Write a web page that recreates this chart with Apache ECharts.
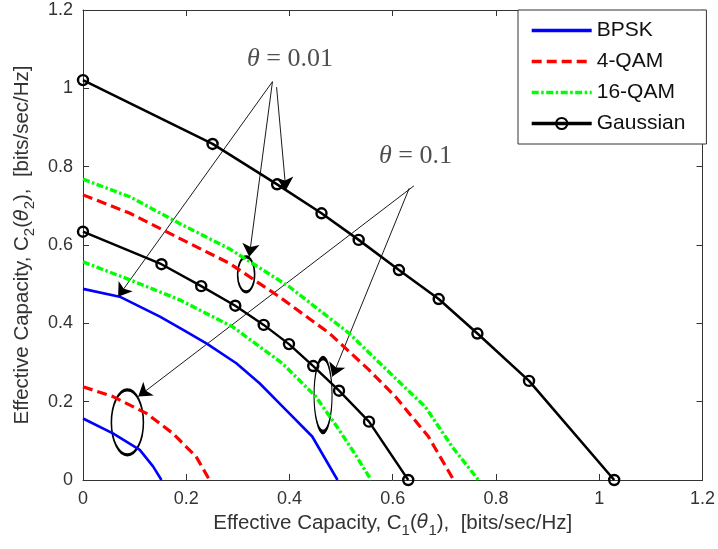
<!DOCTYPE html>
<html><head><meta charset="utf-8">
<script src="https://cdn.jsdelivr.net/npm/echarts@6/dist/echarts.min.js"></script>
<style>html,body{margin:0;padding:0;background:#fff}#c{width:718px;height:549px}</style>
</head><body><div id="c"></div>
<script>
// ---- data (C1 = x, C2 = y) ----
const bpskT001C1 = [0, 0.071, 0.149, 0.194, 0.239, 0.297, 0.342, 0.393, 0.444, 0.493];
const bpskT001C2 = [0.488, 0.468, 0.417, 0.383, 0.349, 0.298, 0.247, 0.179, 0.111, 0];
const bpskT01C1 = [0, 0.058, 0.110, 0.136, 0.152];
const bpskT01C2 = [0.157, 0.119, 0.077, 0.034, 0];

const qam4T001C1 = [0, 0.091, 0.187, 0.284, 0.380, 0.477, 0.554, 0.605, 0.669, 0.718];
const qam4T001C2 = [0.728, 0.681, 0.617, 0.553, 0.468, 0.375, 0.281, 0.213, 0.111, 0];
const qam4T01C1 = [0, 0.058, 0.123, 0.174, 0.219, 0.245];
const qam4T01C2 = [0.238, 0.213, 0.170, 0.119, 0.060, 0];

const qam16T001C1 = [0, 0.091, 0.187, 0.284, 0.399, 0.515, 0.605, 0.663, 0.715, 0.766];
const qam16T001C2 = [0.768, 0.723, 0.655, 0.590, 0.494, 0.375, 0.260, 0.187, 0.085, 0];
const qam16T01C1 = [0, 0.091, 0.187, 0.290, 0.386, 0.451, 0.496, 0.530, 0.558];
const qam16T01C2 = [0.557, 0.511, 0.460, 0.391, 0.298, 0.213, 0.128, 0.060, 0];

const gaussT001C1 = [0, 0.251, 0.376, 0.462, 0.534, 0.612, 0.689, 0.764, 0.864, 1.029];
const gaussT001C2 = [1.021, 0.858, 0.755, 0.681, 0.613, 0.536, 0.462, 0.374, 0.253, 0];
const gaussT01C1 = [0, 0.152, 0.229, 0.295, 0.350, 0.399, 0.446, 0.496, 0.554, 0.630];
const gaussT01C2 = [0.634, 0.551, 0.495, 0.445, 0.396, 0.347, 0.291, 0.228, 0.149, 0];

const seriesNames = ['BPSK', '4-QAM', '16-QAM', 'Gaussian'];

// annotations (data coordinates)
const noteTexts = ['θ = 0.01', 'θ = 0.1'];
const notePos = [[0.401, 1.074], [0.644, 0.827]];
const arrowFrom = [[0.367, 1.017], [0.367, 1.017], [0.375, 1.003], [0.641, 0.751], [0.632, 0.745]];
const arrowTo = [[0.068, 0.468], [0.322, 0.570], [0.393, 0.740], [0.107, 0.213], [0.483, 0.264]];
const ellipseCenters = [[0.316, 0.525], [0.086, 0.147], [0.465, 0.217]];

// ---- build ----
const zip = (a, b) => a.map((v, i) => [v, b[i]]);
const ellipseSizes = [[17, 35], [32, 65], [18, 74]];

function curve(name, xs, ys, color, dash, width, extra) {
  return Object.assign({
    name: name, type: 'line', data: zip(xs, ys),
    symbol: 'none', showSymbol: false, silent: true, animation: false,
    lineStyle: { color: color, width: width, type: dash, cap: 'butt' },
    itemStyle: { color: color }
  }, extra || {});
}
const gaussExtra = {
  symbol: 'circle', showSymbol: true, symbolSize: 10,
  itemStyle: { color: 'rgba(0,0,0,0)', borderColor: '#000', borderWidth: 2.4 }
};
const dashRed = [10, 5];
const dashGreen = [7, 2.5, 2.5, 2.5];

const series = [
  curve('BPSK', bpskT001C1, bpskT001C2, '#0000ff', 'solid', 2.6),
  curve('BPSK', bpskT01C1, bpskT01C2, '#0000ff', 'solid', 2.6),
  curve('4-QAM', qam4T001C1, qam4T001C2, '#ff0000', dashRed, 3.2),
  curve('4-QAM', qam4T01C1, qam4T01C2, '#ff0000', dashRed, 3.2),
  curve('16-QAM', qam16T001C1, qam16T001C2, '#00ff00', dashGreen, 3.4),
  curve('16-QAM', qam16T01C1, qam16T01C2, '#00ff00', dashGreen, 3.4),
  curve('Gaussian', gaussT001C1, gaussT001C2, '#000000', 'solid', 2.6, gaussExtra),
  curve('Gaussian', gaussT01C1, gaussT01C2, '#000000', 'solid', 2.4, gaussExtra),
  {
    type: 'lines', coordinateSystem: 'cartesian2d', silent: true, animation: false,
    symbol: ['none', 'arrow'], symbolSize: 13,
    lineStyle: { color: '#000', width: 0.9, opacity: 1 },
    data: arrowFrom.map((f, i) => ({ coords: [f, arrowTo[i]] }))
  },
  {
    type: 'scatter', silent: true, animation: false, symbol: 'circle',
    itemStyle: { color: 'rgba(0,0,0,0)', borderColor: '#000', borderWidth: 2.2, opacity: 1 },
    data: ellipseCenters.map((c, i) => ({ value: c, symbolSize: ellipseSizes[i] }))
  },
  {
    type: 'scatter', silent: true, animation: false, symbolSize: 1,
    itemStyle: { color: 'rgba(0,0,0,0)' },
    label: {
      show: true, position: 'inside',
      formatter: p => '{t|θ}{n|' + noteTexts[p.dataIndex].slice(1) + '}',
      rich: {
        t: { fontFamily: 'Liberation Serif', fontStyle: 'italic', fontSize: 26, color: '#222' },
        n: { fontFamily: 'Liberation Serif', fontSize: 26, color: '#222' }
      }
    },
    data: notePos
  }
];

const axisCol = '#333';
const nameRich = {
  s: { fontFamily: 'Liberation Sans', fontSize: 15, lineHeight: 15, verticalAlign: 'bottom', color: axisCol },
  t: { fontFamily: 'DejaVu Sans', fontStyle: 'italic', fontSize: 19, lineHeight: 29, color: axisCol },
  n: { fontFamily: 'Liberation Sans', fontSize: 20.5, lineHeight: 29, color: axisCol }
};
const valAxis = (pos, show) => ({
  type: 'value', min: 0, max: 1.2, interval: 0.2, position: pos,
  axisLine: { show: true, onZero: false, lineStyle: { color: axisCol, width: 1 } },
  axisTick: { show: true, inside: true, length: 6, lineStyle: { color: axisCol } },
  splitLine: { show: false },
  axisLabel: { show: show, fontFamily: 'Liberation Sans', fontSize: 18, color: axisCol, margin: 10 }
});

const xMain = Object.assign(valAxis('bottom', true), {
  name: '{n|Effective Capacity, C}{s|1}{n|(}{t|θ}{s|1}{n|),  [bits/sec/Hz]}',
  nameLocation: 'middle', nameGap: 29, nameTextStyle: { rich: nameRich }
});
const yMain = Object.assign(valAxis('left', true), {
  name: '{n|Effective Capacity, C}{s|2}{n|(}{t|θ}{s|2}{n|),  [bits/sec/Hz]}',
  nameLocation: 'middle', nameGap: 44, nameTextStyle: { rich: nameRich }
});

const hideSym = { opacity: 0 };
const chart = echarts.init(document.getElementById('c'), null, { renderer: 'canvas' });
chart.setOption({
  animation: false,
  backgroundColor: '#fff',
  grid: { left: 83, right: 13, top: 10, bottom: 69 },
  xAxis: [xMain, valAxis('top', false)],
  yAxis: [yMain, valAxis('right', false)],
  legend: {
    data: seriesNames.map(n => n === 'Gaussian' ? { name: n } : { name: n, itemStyle: hideSym }),
    orient: 'vertical', left: 518, top: 10,
    itemWidth: 60, itemHeight: 14, itemGap: 10,
    padding: [10, 21, 10, 12],
    borderColor: '#333', borderWidth: 1, borderRadius: 0, backgroundColor: '#fff',
    lineStyle: { width: 3.4 },
    textStyle: { fontFamily: 'Liberation Sans', fontSize: 21, color: '#111' },
    selectedMode: false
  },
  series: series
});
</script></body></html>
